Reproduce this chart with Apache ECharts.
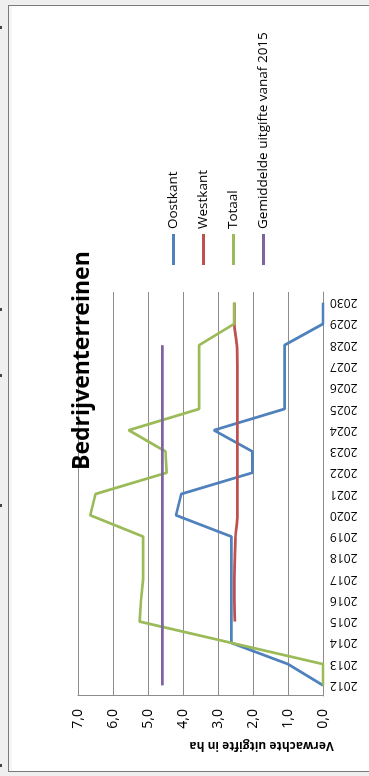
<!DOCTYPE html>
<html>
<head>
<meta charset="utf-8">
<title>Bedrijventerreinen</title>
<script src="https://cdn.jsdelivr.net/npm/echarts@6/dist/echarts.min.js"></script>
<style>
    html, body {
        margin: 0;
        padding: 0;
        width: 369px;
        height: 776px;
        overflow: hidden;
        background: #efefef;
    }
    .frame {
        position: absolute;
        left: 8px;
        top: 5px;
        width: 370px;
        height: 765px;
        background: #fff;
        border: 1px solid #7a7a7a;
        box-shadow: inset 3px 0 0 #f6f6f6;
    }
    /* chart is drawn landscape, then turned a quarter to the left */
    #chart {
        position: absolute;
        left: 0;
        top: 0;
        width: 776px;
        height: 369px;
        transform-origin: 0 0;
        transform: translateY(776px) rotate(-90deg);
    }
    .dot {
        position: absolute;
        left: 0;
        width: 2px;
        height: 3px;
        background: #444;
    }
</style>
</head>
<body>
<div class="frame"></div>
<div class="dot" style="top:26px"></div>
<div class="dot" style="top:308px"></div>
<div class="dot" style="top:374px"></div>
<div class="dot" style="top:504px"></div>
<div class="dot" style="top:764px"></div>
<div id="chart"></div>
<script>
var years = ['2012','2013','2014','2015','2016','2017','2018','2019','2020','2021',
             '2022','2023','2024','2025','2026','2027','2028','2029','2030'];
var oostkant   = [0, 1.0, 2.62, 2.62, 2.62, 2.62, 2.62, 2.62, 4.2, 4.05, 2.02, 2.02, 3.12, 1.1, 1.1, 1.1, 1.1, 0, 0];
var westkant   = [null, null, null, 2.52, 2.53, 2.53, 2.52, 2.5, 2.45, 2.45, 2.45, 2.45, 2.45, 2.45, 2.45, 2.45, 2.46, 2.53, 2.53];
var totaal     = [0, 0, 2.62, 5.24, 5.2, 5.14, 5.14, 5.14, 6.65, 6.5, 4.47, 4.5, 5.55, 3.54, 3.54, 3.54, 3.54, 2.54, 2.54];
var gemiddelde = [4.59, 4.59, 4.59, 4.59, 4.59, 4.59, 4.59, 4.59, 4.59, 4.59, 4.59, 4.59, 4.59, 4.59, 4.59, 4.59, 4.59, null, null];
var seriesNames = ['Oostkant', 'Westkant', 'Totaal', 'Gemiddelde uitgifte vanaf 2015'];
var colors = ['#4f81bd', '#c0504d', '#9bbb59', '#8064a2'];

var font = '"Open Sans", "Noto Sans", sans-serif';
var chart = echarts.init(document.getElementById('chart'));

function lineSeries(name, data, color, smooth) {
    return {
        name: name,
        type: 'line',
        data: data,
        symbol: 'none',
        showSymbol: false,
        smooth: smooth ? 0.3 : false,
        connectNulls: false,
        lineStyle: { width: 2.75, color: color },
        itemStyle: { color: color }
    };
}

var option = {
    animation: false,
    backgroundColor: 'transparent',
    title: {
        text: 'Bedrijventerreinen',
        left: 306,
        top: 71,
        padding: 0,
        textStyle: { fontFamily: font, fontSize: 23, fontWeight: 'bold', color: '#000' }
    },
    legend: {
        orient: 'vertical',
        left: 506,
        top: 160,
        itemGap: 13,
        itemWidth: 31,
        itemHeight: 3,
        icon: 'rect',
        data: seriesNames,
        textStyle: { fontFamily: font, fontSize: 13.5, color: '#000', lineHeight: 17 }
    },
    grid: { left: 80, right: 292, top: 78, bottom: 46, containLabel: false },
    xAxis: {
        type: 'category',
        data: years,
        boundaryGap: true,
        axisLine: { lineStyle: { color: '#8c8c8c', width: 1 } },
        axisTick: { show: false },
        axisLabel: { rotate: 90, interval: 0, margin: 7, fontFamily: font, fontSize: 12, color: '#000' },
        splitLine: { show: false }
    },
    yAxis: {
        type: 'value',
        min: 0,
        max: 7,
        interval: 1,
        name: 'Verwachte uitgifte in ha',
        nameLocation: 'middle',
        nameRotate: 90,
        nameGap: 42,
        nameTextStyle: { fontFamily: font, fontSize: 12, fontWeight: 'bold', color: '#000', padding: [0, 122, 0, 0] },
        axisLine: { show: true, lineStyle: { color: '#8c8c8c', width: 1 } },
        axisTick: { show: false },
        axisLabel: {
            margin: 13,
            fontFamily: font,
            fontSize: 14,
            color: '#000',
            formatter: function (v) { return v.toFixed(1).replace('.', ','); }
        },
        splitLine: { show: true, lineStyle: { color: '#8c8c8c', width: 1 } }
    },
    series: [
        lineSeries(seriesNames[0], oostkant, colors[0], false),
        lineSeries(seriesNames[1], westkant, colors[1], true),
        lineSeries(seriesNames[2], totaal, colors[2], false),
        lineSeries(seriesNames[3], gemiddelde, colors[3], false)
    ]
};
chart.setOption(option);
</script>
</body>
</html>
